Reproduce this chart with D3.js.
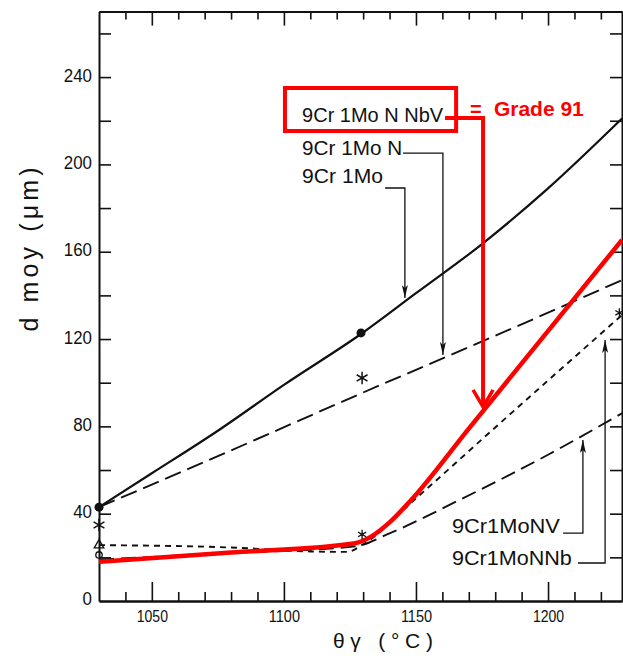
<!DOCTYPE html>
<html>
<head>
<meta charset="utf-8">
<script src="https://cdn.jsdelivr.net/npm/d3@7"></script>
<style>
  html, body { margin: 0; padding: 0; background: #fff; }
  svg { display: block; }
  .hand { font-family: "Liberation Sans", Arial, sans-serif; fill: #111; }
</style>
</head>
<body>
<svg id="chart" width="623" height="659"></svg>
<script>
// ---------------- data ----------------
const xDomain = [1030, 1228];
const yDomain = [0, 270];

const xMajorTicks = [1050, 1100, 1150, 1200];
const xMinorTicks = [1040, 1060, 1070, 1080, 1090, 1110, 1120, 1130, 1140, 1160, 1170, 1180, 1190, 1210, 1220];
const yTickLabels = [0, 40, 80, 120, 160, 200, 240];
const yAllTicks = [20, 40, 60, 80, 100, 120, 140, 160, 180, 200, 220, 240, 260];

// 9Cr1Mo (solid)
const moX = [1030, 1050, 1075, 1100, 1130, 1150, 1175, 1200, 1228];
const moY = [43, 58.5, 78, 99, 123, 141, 163.5, 189, 221];
// 9Cr1MoN (long dash)
const nX = [1030, 1080, 1130, 1180, 1228];
const nY = [43, 69, 95.5, 121.5, 147];
// 9Cr1MoNNb (short dash)
const nnbX = [1030, 1080, 1110, 1124, 1130, 1150, 1180, 1200, 1228];
const nnbY = [25.6, 24.5, 22.7, 22.5, 26, 47, 79.5, 101, 131];
// 9Cr1MoNV (long dash, lower)
const nvX = [1030, 1080, 1127, 1140, 1166, 1200, 1228];
const nvY = [19, 22, 25, 31, 46, 67, 86];
// 9Cr1MoNNbV = Grade 91 (red)
const g91X = [1030, 1080, 1127, 1133, 1140, 1148, 1170, 1228];
const g91Y = [18, 22.2, 26.5, 29.5, 36, 46, 79, 165.4];

// data markers
const dotPts = [[1030, 43], [1129.2, 122.8]];
const starPts = [[1030, 34.8], [1129.6, 102.2]];
const smallStarPts = [[1129.6, 30.5], [1227, 132]];
const trianglePts = [[1030, 25.6]];
const circlePts = [[1030, 21.1]];

// annotations (data coordinates)
const labelMo = { text: "9Cr 1Mo", at: [1106.9, 191.5], leader: [[1138.3, 189.2], [1145.8, 189.2], [1145.8, 138.8]] };
const labelN = { text: "9Cr 1Mo N", at: [1106.9, 204.3], leader: [[1145.1, 205.2], [1160.2, 205.2], [1160.2, 112.7]] };
const labelNV = { text: "9Cr1MoNV", at: [1163.6, 31.1], leader: [[1205.7, 31.1], [1213.2, 31.1], [1213.2, 73.8]] };
const labelNNb = { text: "9Cr1MoNNb", at: [1163.6, 16.5], leader: [[1211.3, 17.4], [1221.6, 17.4], [1221.6, 119.6]] };
const labelG91 = { text: "9Cr 1Mo N NbV", at: [1106.9, 219.4], box: [[1100.4, 235.0], [1165.2, 215.3]],
                   leader: [[1161.0, 221.3], [1175.4, 221.3], [1175.4, 88.9]] };
const grade91Text = { eq: "=", eqAt: [1170.5, 222.2], text: "Grade 91", at: [1179.5, 222.2] };

// ---------------- drawing ----------------
const svg = d3.select("#chart");
const x = d3.scaleLinear().domain(xDomain).range([99, 622]);
const y = d3.scaleLinear().domain(yDomain).range([601, 11.6]);

const defs = svg.append("defs");
defs.append("marker").attr("id", "arrB").attr("markerUnits", "userSpaceOnUse")
  .attr("viewBox", "0 0 13 6").attr("markerWidth", 13).attr("markerHeight", 6)
  .attr("refX", 13).attr("refY", 3).attr("orient", "auto")
  .append("path").attr("d", "M0,0 L13,3 L0,6 L3,3 Z").attr("fill", "#111");
defs.append("marker").attr("id", "arrR").attr("markerUnits", "userSpaceOnUse")
  .attr("viewBox", "-2 -2 22 24").attr("markerWidth", 22).attr("markerHeight", 24)
  .attr("refX", 17).attr("refY", 10).attr("orient", "auto")
  .append("path").attr("d", "M0,0 L17,10 L0,20").attr("fill", "none")
  .attr("stroke", "#ff0000").attr("stroke-width", 3.5).attr("stroke-linejoin", "miter");

// axes
const axisStyle = g => {
  g.select(".domain").attr("stroke", "#111").attr("stroke-width", 2);
  g.selectAll(".tick line").attr("stroke", "#111").attr("stroke-width", 1.6);
  g.selectAll("text").attr("class", "hand").attr("fill", "#111");
};
const fitText = (sel, perChar) => sel
  .attr("textLength", function () { return this.textContent.length * perChar; })
  .attr("lengthAdjust", "spacingAndGlyphs");

svg.append("g").attr("transform", `translate(0,${y(0)})`)
  .call(d3.axisBottom(x).tickValues(xMinorTicks).tickSize(-9).tickSizeOuter(0).tickFormat(""))
  .call(axisStyle);
svg.append("g").attr("transform", `translate(0,${y(0)})`)
  .call(d3.axisBottom(x).tickValues(xMajorTicks).tickSize(-19).tickSizeOuter(0).tickPadding(9).tickFormat(d3.format("d")))
  .call(axisStyle)
  .call(g => fitText(g.selectAll("text").attr("font-size", 17), 7.8));
svg.append("g").attr("transform", `translate(0,${y(270)})`)
  .call(d3.axisTop(x).tickValues(xMinorTicks).tickSize(-8).tickSizeOuter(0).tickFormat(""))
  .call(axisStyle);
svg.append("g").attr("transform", `translate(0,${y(270)})`)
  .call(d3.axisTop(x).tickValues(xMajorTicks).tickSize(-14).tickSizeOuter(0).tickFormat(""))
  .call(axisStyle);
svg.append("g").attr("transform", `translate(${x(1030)},0)`)
  .call(d3.axisLeft(y).tickValues(yAllTicks).tickSize(-12).tickSizeOuter(0).tickFormat(""))
  .call(axisStyle);
svg.append("g").attr("transform", `translate(${x(1030)},0)`)
  .call(d3.axisLeft(y).tickValues(yTickLabels).tickSize(0).tickSizeOuter(0).tickPadding(7))
  .call(axisStyle)
  .call(g => g.select(".domain").remove())
  .call(g => fitText(g.selectAll("text").attr("font-size", 18).attr("dy", "0.22em"), 9.4));
svg.append("g").attr("transform", `translate(${x(1228)},0)`)
  .call(d3.axisRight(y).tickValues(yAllTicks).tickSize(-12).tickSizeOuter(0).tickFormat(""))
  .call(axisStyle);

// axis titles
svg.append("text").attr("class", "hand")
  .attr("transform", `translate(38,${y(161)}) rotate(-90)`)
  .attr("text-anchor", "middle").attr("font-size", 25)
  .attr("textLength", 164).attr("lengthAdjust", "spacing")
  .text("d  moy  (μm)");
svg.append("text").attr("class", "hand")
  .attr("x", x(1137.5)).attr("y", 648)
  .attr("text-anchor", "middle").attr("font-size", 21)
  .attr("textLength", 100).attr("lengthAdjust", "spacing")
  .text("θγ (°C)");

// series
const line = d3.line().x(d => x(d[0])).y(d => y(d[1])).curve(d3.curveMonotoneX);
const zip = (a, b) => a.map((v, i) => [v, b[i]]);
const series = [
  { xs: nX, ys: nY, dash: "17,7", w: 1.9, c: "#111" },
  { xs: nvX, ys: nvY, dash: "15,7", w: 1.9, c: "#111" },
  { xs: nnbX, ys: nnbY, dash: "6,5", w: 1.9, c: "#111" },
  { xs: moX, ys: moY, dash: null, w: 2.2, c: "#111" },
  { xs: g91X, ys: g91Y, dash: null, w: 4.5, c: "#ff0000" }
];
svg.append("g").selectAll("path").data(series).join("path")
  .attr("d", s => line(zip(s.xs, s.ys)))
  .attr("fill", "none").attr("stroke", s => s.c).attr("stroke-width", s => s.w)
  .attr("stroke-dasharray", s => s.dash).attr("stroke-linejoin", "round");

// markers
const mk = svg.append("g");
mk.selectAll("circle.dot").data(dotPts).join("circle").attr("class", "dot")
  .attr("cx", d => x(d[0])).attr("cy", d => y(d[1])).attr("r", 4.5).attr("fill", "#111");
const ast = d3.symbolAsterisk || d3.symbolCross;
mk.selectAll("path.star").data(starPts).join("path").attr("class", "star")
  .attr("transform", d => `translate(${x(d[0])},${y(d[1])})`)
  .attr("d", d3.symbol(ast, 110)).attr("fill", "none").attr("stroke", "#111").attr("stroke-width", 1.5);
mk.selectAll("path.sstar").data(smallStarPts).join("path").attr("class", "sstar")
  .attr("transform", d => `translate(${x(d[0])},${y(d[1])})`)
  .attr("d", d3.symbol(ast, 60)).attr("fill", "none").attr("stroke", "#111").attr("stroke-width", 1.3);
mk.selectAll("path.tri").data(trianglePts).join("path").attr("class", "tri")
  .attr("transform", d => `translate(${x(d[0])},${y(d[1])})`)
  .attr("d", d3.symbol(d3.symbolTriangle, 40)).attr("fill", "none").attr("stroke", "#111").attr("stroke-width", 1.3);
mk.selectAll("circle.open").data(circlePts).join("circle").attr("class", "open")
  .attr("cx", d => x(d[0])).attr("cy", d => y(d[1])).attr("r", 3.2)
  .attr("fill", "none").attr("stroke", "#111").attr("stroke-width", 1.3);

// black annotations
const leaderLine = d3.line().x(d => x(d[0])).y(d => y(d[1]));
[[labelMo, 81], [labelN, 100], [labelNV, 108], [labelNNb, 120]].forEach(([a, w]) => {
  svg.append("text").attr("class", "hand").attr("x", x(a.at[0])).attr("y", y(a.at[1]))
    .attr("font-size", 20).attr("textLength", w).attr("lengthAdjust", "spacingAndGlyphs").text(a.text);
  svg.append("path").attr("d", leaderLine(a.leader)).attr("fill", "none")
    .attr("stroke", "#111").attr("stroke-width", 1.3).attr("marker-end", "url(#arrB)");
});

// red annotation
svg.append("rect")
  .attr("x", x(labelG91.box[0][0])).attr("y", y(labelG91.box[0][1]))
  .attr("width", x(labelG91.box[1][0]) - x(labelG91.box[0][0]))
  .attr("height", y(labelG91.box[1][1]) - y(labelG91.box[0][1]))
  .attr("fill", "none").attr("stroke", "#ff0000").attr("stroke-width", 4);
svg.append("text").attr("class", "hand").attr("x", x(labelG91.at[0])).attr("y", y(labelG91.at[1]))
  .attr("font-size", 20).attr("textLength", 141).attr("lengthAdjust", "spacingAndGlyphs").text(labelG91.text);
svg.append("path").attr("d", leaderLine(labelG91.leader)).attr("fill", "none")
  .attr("stroke", "#ff0000").attr("stroke-width", 4).attr("marker-end", "url(#arrR)");
svg.append("text").attr("x", x(grade91Text.eqAt[0])).attr("y", y(grade91Text.eqAt[1]))
  .attr("font-family", "Liberation Sans, Arial, sans-serif").attr("font-weight", "bold")
  .attr("font-size", 20).attr("fill", "#ff0000").text(grade91Text.eq);
svg.append("text").attr("x", x(grade91Text.at[0])).attr("y", y(grade91Text.at[1]))
  .attr("font-family", "Liberation Sans, Arial, sans-serif").attr("font-weight", "bold")
  .attr("font-size", 21).attr("fill", "#ff0000").text(grade91Text.text);
</script>
</body>
</html>
